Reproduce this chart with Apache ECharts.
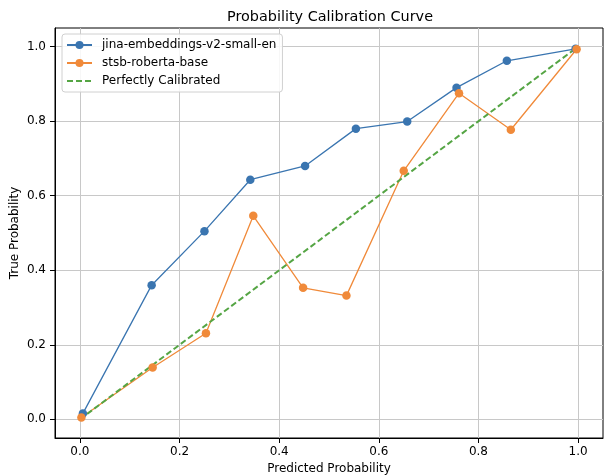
<!DOCTYPE html>
<html>
<head>
<meta charset="utf-8">
<script src="https://cdn.jsdelivr.net/npm/echarts@6/dist/echarts.min.js"></script>
<style>html,body{margin:0;padding:0;background:#fff}#c{width:604px;height:476px}</style>
</head>
<body>
<div id="c"></div>
<script>
const predJina = [0.006, 0.144, 0.25, 0.342, 0.452, 0.554, 0.657, 0.756, 0.857, 0.995];
const trueJina = [0.016, 0.36, 0.505, 0.643, 0.68, 0.78, 0.799, 0.89, 0.962, 0.994];
const predStsb = [0.003, 0.146, 0.253, 0.348, 0.448, 0.535, 0.65, 0.761, 0.865, 0.997];
const trueStsb = [0.005, 0.139, 0.231, 0.546, 0.353, 0.332, 0.667, 0.875, 0.777, 0.993];
const diagX = [0, 1];
const diagY = [0, 1];
const tickValues = [0, 0.2, 0.4, 0.6, 0.8, 1.0];
const seriesNames = ['jina-embeddings-v2-small-en', 'stsb-roberta-base', 'Perfectly Calibrated'];
const titleText = 'Probability Calibration Curve';
const xName = 'Predicted Probability';
const yName = 'True Probability';

const zip = (a, b) => a.map((v, i) => [v, b[i]]);
const FONT = 'DejaVu Sans';
const axisCommon = {
  type: 'value', min: -0.05, max: 1.05,
  nameLocation: 'middle',
  nameTextStyle: { fontFamily: FONT, fontSize: 12, color: '#000' },
  axisLine: { show: true, onZero: false, lineStyle: { color: '#000', width: 1 } },
  axisTick: { show: true, length: 5, customValues: tickValues, lineStyle: { color: '#000', width: 1 } },
  axisLabel: { customValues: tickValues, fontFamily: FONT, fontSize: 12, color: '#000',
    formatter: v => Number(v).toFixed(1) },
  splitLine: { show: true, lineStyle: { color: '#c8c8c8', width: 1 } }
};
const chart = echarts.init(document.getElementById('c'), null, { renderer: 'canvas' });
chart.setOption({
  animation: false,
  backgroundColor: '#fff',
  title: { text: titleText, left: 330, top: 10.5, padding: 0, textAlign: 'center',
    textStyle: { fontFamily: FONT, fontSize: 14.4, fontWeight: 'normal', color: '#000' } },
  grid: { left: 55, right: 1, top: 28, bottom: 38, show: true, borderColor: '#000', borderWidth: 1,
    backgroundColor: 'transparent', containLabel: false, outerBoundsMode: 'none' },
  legend: {
    left: 62, top: 34, orient: 'vertical',
    padding: [4, 6, 4, 4], itemGap: 4, itemWidth: 25, itemHeight: 10,
    backgroundColor: 'rgba(255,255,255,0.85)', borderColor: '#d0d0d0', borderWidth: 1, borderRadius: 3,
    textStyle: { fontFamily: FONT, fontSize: 12, color: '#000', lineHeight: 14, padding: [0, 0, 0, 5] },
    data: [seriesNames[0], seriesNames[1], { name: seriesNames[2], itemStyle: { opacity: 0 } }]
  },
  xAxis: Object.assign({}, axisCommon, { name: xName, nameGap: 23,
    axisLabel: Object.assign({}, axisCommon.axisLabel, { margin: 8 }) }),
  yAxis: Object.assign({}, axisCommon, { name: yName, nameGap: 34, nameMoveOverlap: false,
    axisLabel: Object.assign({}, axisCommon.axisLabel, { margin: 9 }) }),
  series: [
    { name: seriesNames[0], type: 'line', data: zip(predJina, trueJina),
      symbol: 'circle', symbolSize: 8.5, color: '#3a75b0',
      lineStyle: { width: 1.3, color: '#3a75b0' }, itemStyle: { color: '#3a75b0' } },
    { name: seriesNames[1], type: 'line', data: zip(predStsb, trueStsb),
      symbol: 'circle', symbolSize: 8.5, color: '#f08a3a',
      lineStyle: { width: 1.3, color: '#f08a3a' }, itemStyle: { color: '#f08a3a' } },
    { name: seriesNames[2], type: 'line', data: zip(diagX, diagY),
      symbol: 'none', showSymbol: false, color: '#55a544',
      lineStyle: { width: 2, type: [6, 3], color: '#55a544' }, itemStyle: { color: '#55a544' } }
  ]
});
</script>
</body>
</html>
